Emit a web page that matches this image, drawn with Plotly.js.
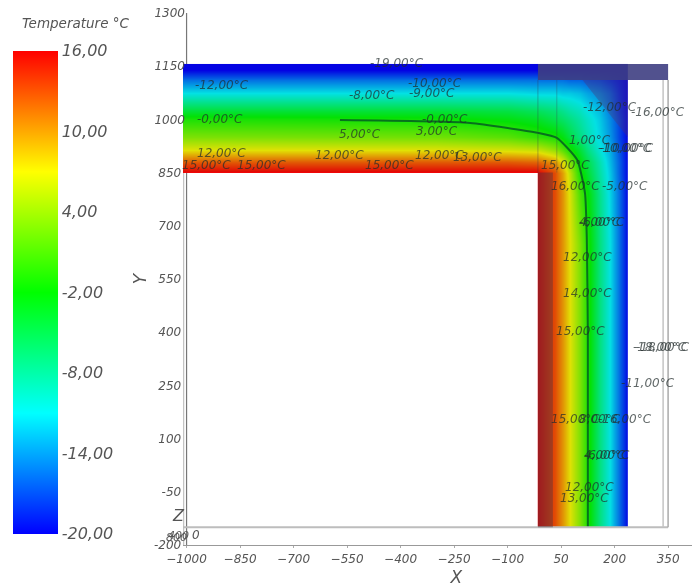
<!DOCTYPE html>
<html>
<head>
<meta charset="utf-8">
<script src="https://cdn.plot.ly/plotly-3.0.1.min.js"></script>
<style>
html,body{margin:0;padding:0;background:#fff}
#plot{width:697px;height:588px;filter:blur(0.55px)}
</style>
</head>
<body>
<div id="plot"></div>
<script>
// Colour scale and scale labels
var scaleColors = [[0,'#0000ff'],[0.25,'#00ffff'],[0.5,'#00ff00'],[0.75,'#ffff00'],[1,'#ff0000']];
var barTicks = [16,10,4,-2,-8,-14,-20];
var barTickText = ['16,00','10,00','4,00','-2,00','-8,00','-14,00','-20,00'];

// Horizontal wall: temperature per height (rows) and position (columns)
var bandX = [-1010,-300,-100,-15];
var bandY = [850,880,915,950,1000,1025,1075,1110,1140,1156];
var bandT = [
  [16,16,16,16],
  [12.5,12.5,12.5,12],
  [7,7,6.5,6],
  [3,2.5,1.5,0],
  [-1,-1.5,-2.5,-3.5],
  [-4,-4,-4.5,-5.5],
  [-11,-11,-11,-11.5],
  [-15.5,-15.5,-15.5,-15.5],
  [-20,-20,-20,-20],
  [-20,-20,-20,-20]
];

// Vertical wall and corner
var legX = [-15,33,55,75,103,125,159,187,215,237];
var legY = [-150,650,790,850,880,915,950,1000,1025,1075,1110,1140,1156];
var legT = [
  [16,13,10,7,3,-1,-7,-11,-16,-20],
  [16,13,10,7,3,-1,-7,-11,-16,-20],
  [16,13,10,6.5,1,-2,-7.5,-11.5,-16,-20],
  [16,13,9.5,5.5,-1,-4,-8.5,-12,-16.5,-20],
  [12,10,7,3,-2,-5,-9,-12.5,-16.5,-20],
  [6,4,1.5,-1,-4,-7,-10.5,-13,-17,-20],
  [0,-1,-2.5,-4.5,-7,-9,-11.5,-14,-17.5,-20],
  [-3.5,-5,-6,-7,-8.5,-10,-12,-14.5,-17.5,-20],
  [-5.5,-6.5,-7.5,-8.5,-9.5,-11,-12.5,-15,-18,-20],
  [-11.5,-11.5,-12,-12,-12.5,-13.5,-14.5,-16,-18.5,-20],
  [-15.5,-15.5,-15.5,-16,-16,-16.5,-17,-18,-19,-20],
  [-20,-20,-20,-20,-20,-20,-20,-20,-20,-20],
  [-20,-20,-20,-20,-20,-20,-20,-20,-20,-20]
];

// Dark isotherm running through both walls
var isoX = [-570,-205,-15,38,95,117,122,125,125];
var isoY = [998,990,962,948,886,792,668,400,-150];

// Contour labels
var labelText = ['-19,00°C','-12,00°C','-8,00°C','-10,00°C','-9,00°C','-0,00°C','-0,00°C','5,00°C','3,00°C',
 '12,00°C','12,00°C','12,00°C','13,00°C','15,00°C','15,00°C','15,00°C',
 '-12,00°C','-16,00°C','1,00°C','-10,00°C','-10,00°C','15,00°C','16,00°C','-5,00°C','4,00°C','-6,00°C',
 '12,00°C','14,00°C','15,00°C','-18,00°C','-18,00°C','-11,00°C','15,00°C','8,00°C','-16,00°C','4,00°C','-6,00°C','12,00°C','13,00°C'];
var labelX = [-410,-901,-480,-304,-312,-906,-276,-514,-298,
 -901,-570,-290,-183,-943,-789,-430,
 187,322,131,229,235,61,89,229,159,165,
 125,125,103,327,335,294,89,159,229,173,180,131,117];
var labelY = [1159,1097,1069,1103,1074,1001,1001,959,967,
 905,900,900,894,871,871,871,
 1035,1021,942,919,919,871,812,812,711,711,
 612,511,403,359,359,257,155,155,155,54,54,-36,-67];

// Axis ticks
var xTicks = [-1000,-850,-700,-550,-400,-250,-100,50,200,350];
var yTicks = [-200,-50,100,250,400,550,700,850,1000,1150,1300];
var yTickText = ['-200 ','-50&nbsp;','100&nbsp;','250&nbsp;','400&nbsp;','550&nbsp;','700&nbsp;','850&nbsp;','1000','1150','1300'];

// Frame of the geometry
var frameLeft = -1010, frameRight = 350, frameInner = 336, frameBottom = -150, frameTop = 1111;
var wallTop = 1156, wallBottom = 850, innerCorner = -15, innerLine = 38, coldEdge = 237;
var axisLow = -200, axisHigh = 1300, axisStart = -1000;

var ink = '#555';
var fontFam = '"DejaVu Sans", sans-serif';

// Plotly treats heatmap coordinates as cell centres. Thin edge cells keep the drawn area at the wall's real bounds.
function edgeAxis(a){
  var n = a.length;
  return [a[0],a[0]+0.6].concat(a.slice(1,n-1),[a[n-1]-0.6,a[n-1]]);
}
function edgeTable(t){
  var rows = t.map(function(r){
    return [r[0],r[0]].concat(r.slice(1,r.length-1),[r[r.length-1],r[r.length-1]]);
  });
  return [rows[0],rows[0]].concat(rows.slice(1,rows.length-1),[rows[rows.length-1],rows[rows.length-1]]);
}

function txt(s,size,px,py){
  return {text:'<i>'+s+'</i>',x:(px-183)/509,y:1-(py-13)/532,xref:'paper',yref:'paper',showarrow:false,
    xanchor:'center',yanchor:'middle',font:{family:fontFam,size:size,color:ink}};
}
var anns = labelText.map(function(s,i){
  return {text:'<i>'+s+'</i>',x:labelX[i],y:labelY[i],xref:'x',yref:'y',showarrow:false,
    font:{family:fontFam,size:12,color:'rgba(35,45,45,0.72)'}};
});
anns.push(txt('Temperature °C',13.5,75,23));
anns.push(txt('Z',16,178,515));
anns.push(txt('0',12,196,535));
anns.push(txt('800',11,176,537));
anns.push(txt('400',11,178,535));

function line(x0,y0,x1,y1,color,w,layer){
  return {type:'line',xref:'x',yref:'y',x0:x0,y0:y0,x1:x1,y1:y1,line:{color:color,width:w},layer:layer||'above'};
}
function box(x0,y0,x1,y1,fill){
  return {type:'rect',xref:'x',yref:'y',x0:x0,y0:y0,x1:x1,y1:y1,fillcolor:fill,line:{width:0},layer:'above'};
}
var shapes = [
  line(axisStart,axisLow,axisStart,axisHigh,'#777',1.2,'below'),
  line(frameLeft,wallBottom,frameLeft,axisLow,'#c4c4c4',2.5,'below'),
  box(frameLeft,wallBottom,innerCorner,wallTop,'rgba(20,20,40,0.13)'),
  box(innerCorner,frameBottom,coldEdge,wallTop,'rgba(20,20,40,0.13)'),
  line(frameLeft,frameBottom,frameRight,frameBottom,'#bdbdbd',2),
  line(frameInner,frameTop,frameInner,frameBottom,'#c4c4c4',1.5),
  line(frameRight,frameTop,frameRight,frameBottom,'#aaa',1.5),
  box(innerCorner,frameBottom,27,wallBottom,'rgba(70,60,70,0.42)'),
  box(innerCorner,frameTop,frameRight,wallTop,'rgba(62,62,130,0.9)'),
  {type:'path',xref:'x',yref:'y',path:'M 110 '+frameTop+' L '+coldEdge+' '+frameTop+' L '+coldEdge+' 950 Z',
   fillcolor:'rgba(80,50,110,0.35)',line:{width:0},layer:'above'},
  line(innerCorner,wallBottom,innerCorner,frameTop,'rgba(60,60,80,0.35)',1),
  line(innerLine,wallBottom,innerLine,frameTop,'rgba(60,60,80,0.3)',1)
];

var heatBand = {type:'heatmap',x:edgeAxis(bandX),y:edgeAxis(bandY),z:edgeTable(bandT),zmin:-20,zmax:16,zsmooth:'best',
  colorscale:scaleColors,hoverinfo:'skip',showscale:true,
  colorbar:{xref:'container',yref:'container',x:13/697,y:1-56/588,xanchor:'left',yanchor:'top',
    xpad:0,ypad:0,len:483,lenmode:'pixels',thickness:45,thicknessmode:'pixels',outlinewidth:0,
    tickmode:'array',tickvals:barTicks,ticktext:barTickText,ticks:'',ticklen:0,
    tickfont:{family:fontFam,size:16,color:ink,style:'italic'}}};
var heatLeg = {type:'heatmap',x:edgeAxis(legX),y:edgeAxis(legY),z:edgeTable(legT),zmin:-20,zmax:16,zsmooth:'best',
  colorscale:scaleColors,hoverinfo:'skip',showscale:false};
var iso = {type:'scatter',mode:'lines',x:isoX,y:isoY,hoverinfo:'skip',showlegend:false,
  line:{color:'rgba(0,95,35,0.8)',width:2,shape:'spline',smoothing:0.5}};

var layout = {
  width:697,height:588,paper_bgcolor:'#fff',plot_bgcolor:'#fff',showlegend:false,
  margin:{l:183,r:5,t:13,b:43,autoexpand:false},
  xaxis:{range:[-1010,417],tickmode:'array',tickvals:xTicks,showgrid:false,zeroline:false,
    showline:true,linecolor:'#999',linewidth:1.2,ticks:'outside',ticklen:2,tickcolor:'#aaa',
    tickfont:{family:fontFam,size:12,color:ink,style:'italic'},
    title:{text:'<i>&nbsp;&nbsp;&nbsp;&nbsp;&nbsp;&nbsp;&nbsp;X</i>',standoff:6,font:{family:fontFam,size:17,color:ink}}},
  yaxis:{range:[-200,1300],tickmode:'array',tickvals:yTicks,ticktext:yTickText,showgrid:false,zeroline:false,
    showline:false,ticks:'',ticklabelstandoff:-3,
    tickfont:{family:fontFam,size:12,color:ink,style:'italic'},
    title:{text:'<i>Y</i>',standoff:2,font:{family:fontFam,size:17,color:ink}}},
  shapes:shapes,annotations:anns
};
Plotly.newPlot('plot',[heatBand,heatLeg,iso],layout,{displayModeBar:false,staticPlot:true});
</script>
</body>
</html>
